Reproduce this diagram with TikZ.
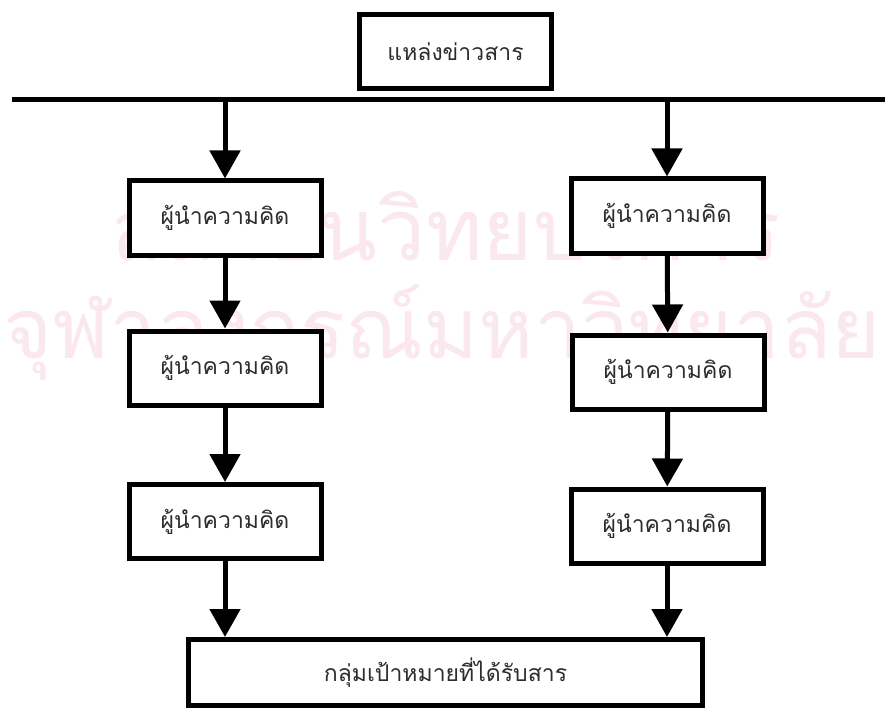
\documentclass[tikz,border=0pt]{standalone}
\usepackage{fontspec}
\newfontfamily\thaifont[Script=Thai]{Loma}
\usetikzlibrary{arrows.meta}
\definecolor{wmark}{RGB}{250,232,238}
\definecolor{ink}{RGB}{45,45,45}
\begin{document}
\begin{tikzpicture}[x=1pt,y=-1pt,
  box/.style={draw, fill=white, line width=5pt, inner sep=0pt, minimum width=192pt, minimum height=74pt,
    text=ink, font=\thaifont\fontsize{23}{27}\selectfont},
  flow/.style={line width=5pt, -{Triangle[width=30pt,length=28pt]}},
  wm/.style={text=wmark, font=\thaifont\fontsize{86}{96}\selectfont, inner sep=0pt}]
\useasboundingbox (0,0) rectangle (885,711);
\fill[white] (0,0) rectangle (885,711);
% faint watermark
\node[wm] (wm1) at (446,226) {สถาบันวิทยบริการ};
\node[wm, font=\thaifont\fontsize{84}{96}\selectfont] (wm2) at (442,333) {จุฬาลงกรณ์มหาวิทยาลัย};
% boxes
\node[box] (src) at (455.5,52) {แหล่งข่าวสาร};
\node[box] (a1) at (225,218) {ผู้นำความคิด};
\node[box] (a2) at (225,368) {ผู้นำความคิด};
\node[box] (a3) at (225,521.5) {ผู้นำความคิด};
\node[box] (b1) at (667,216) {ผู้นำความคิด};
\node[box] (b2) at (668,372) {ผู้นำความคิด};
\node[box] (b3) at (667,526) {ผู้นำความคิด};
\node[box, minimum width=514pt, minimum height=66pt] (tgt) at (445.5,672.5) {กลุ่มเป้าหมายที่ได้รับสาร};
% distribution line
\coordinate (hl) at (12,100);
\coordinate (hr) at (885,100);
\draw[line width=5pt] (hl) -- (hr);
% connectors
\draw[flow] (a1.north |- hl) -- (a1.north);
\draw[flow] (b1.north |- hl) -- (b1.north);
\draw[flow] (a1) -- (a2);
\draw[flow] (a2) -- (a3);
\draw[flow] (b1) -- (b2);
\draw[flow] (b2) -- (b3);
\draw[flow] (a3.south) -- (a3.south |- tgt.north);
\draw[flow] (b3.south) -- (b3.south |- tgt.north);
\end{tikzpicture}
\end{document}
